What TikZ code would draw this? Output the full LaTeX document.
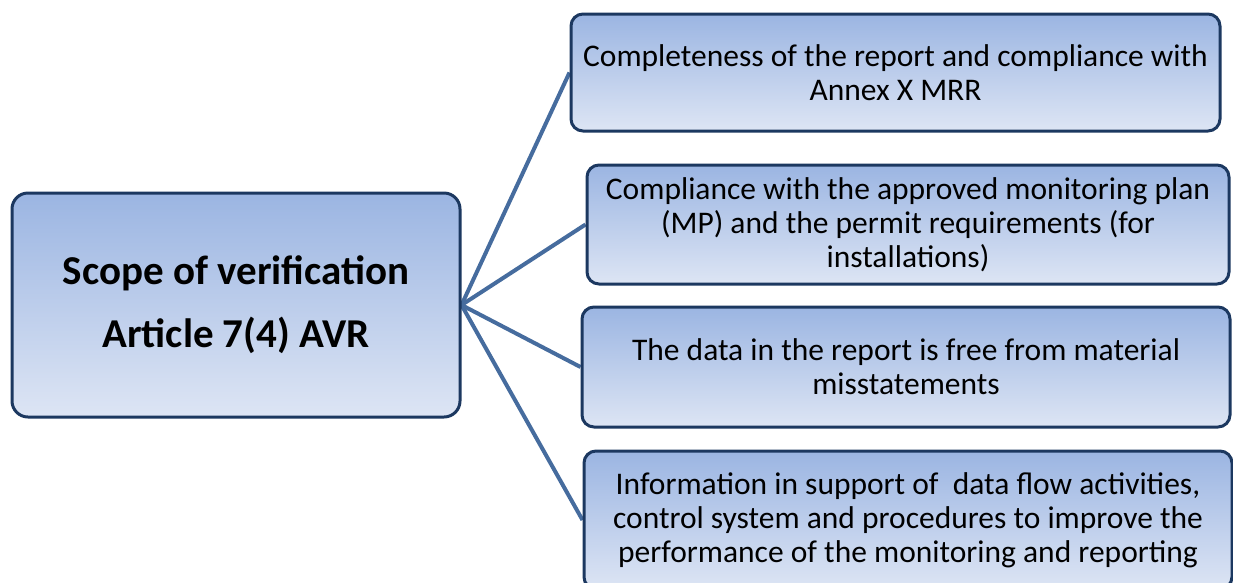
\documentclass[tikz,border=0pt]{standalone}
\usepackage{fontspec}
\setmainfont{Carlito}
\usetikzlibrary{backgrounds}
\definecolor{boxtop}{RGB}{155,181,226}
\definecolor{boxbot}{RGB}{221,229,244}
\definecolor{boxline}{RGB}{28,56,96}
\definecolor{conn}{RGB}{70,108,158}
\tikzset{
  boxnode/.style={draw=boxline, line width=3pt, rounded corners=12pt,
    top color=boxtop, bottom color=boxbot, align=center, inner sep=0pt},
  itembox/.style={boxnode, font=\fontsize{31.5}{34}\selectfont},
  connline/.style={draw=conn, line width=4pt},
}
\begin{document}
\begin{tikzpicture}[x=1pt,y=-1pt]
\useasboundingbox (0,0) rectangle (1233,582);
\node[boxnode, rounded corners=16pt, minimum width=448pt, minimum height=224pt,
  font=\fontsize{41}{63}\selectfont\bfseries] (src) at (236,305)
  {Scope of verification\\Article 7(4) AVR};
\node[itembox, minimum width=649pt, minimum height=117pt] (b1) at (895.5,72.5)
  {Completeness of the report and compliance with\\Annex X MRR};
\node[itembox, minimum width=642pt, minimum height=119pt] (b2) at (908,224.5)
  {Compliance with the approved monitoring plan\\(MP) and the permit requirements (for\\installations)};
\node[itembox, minimum width=648pt, minimum height=120pt] (b3) at (906,367)
  {The data in the report is free from material\\misstatements};
\node[itembox, minimum width=648pt, minimum height=138pt] (b4) at (908,520)
  {Information in support of\ \ data flow activities,\\control system and procedures to improve the\\performance of the monitoring and reporting};
\begin{scope}[on background layer]
\draw[connline] (src.east) -- (b1.west);
\draw[connline] (src.east) -- (b2.west);
\draw[connline] (src.east) -- (b3.west);
\draw[connline] (src.east) -- (b4.west);
\end{scope}
\end{tikzpicture}
\end{document}
